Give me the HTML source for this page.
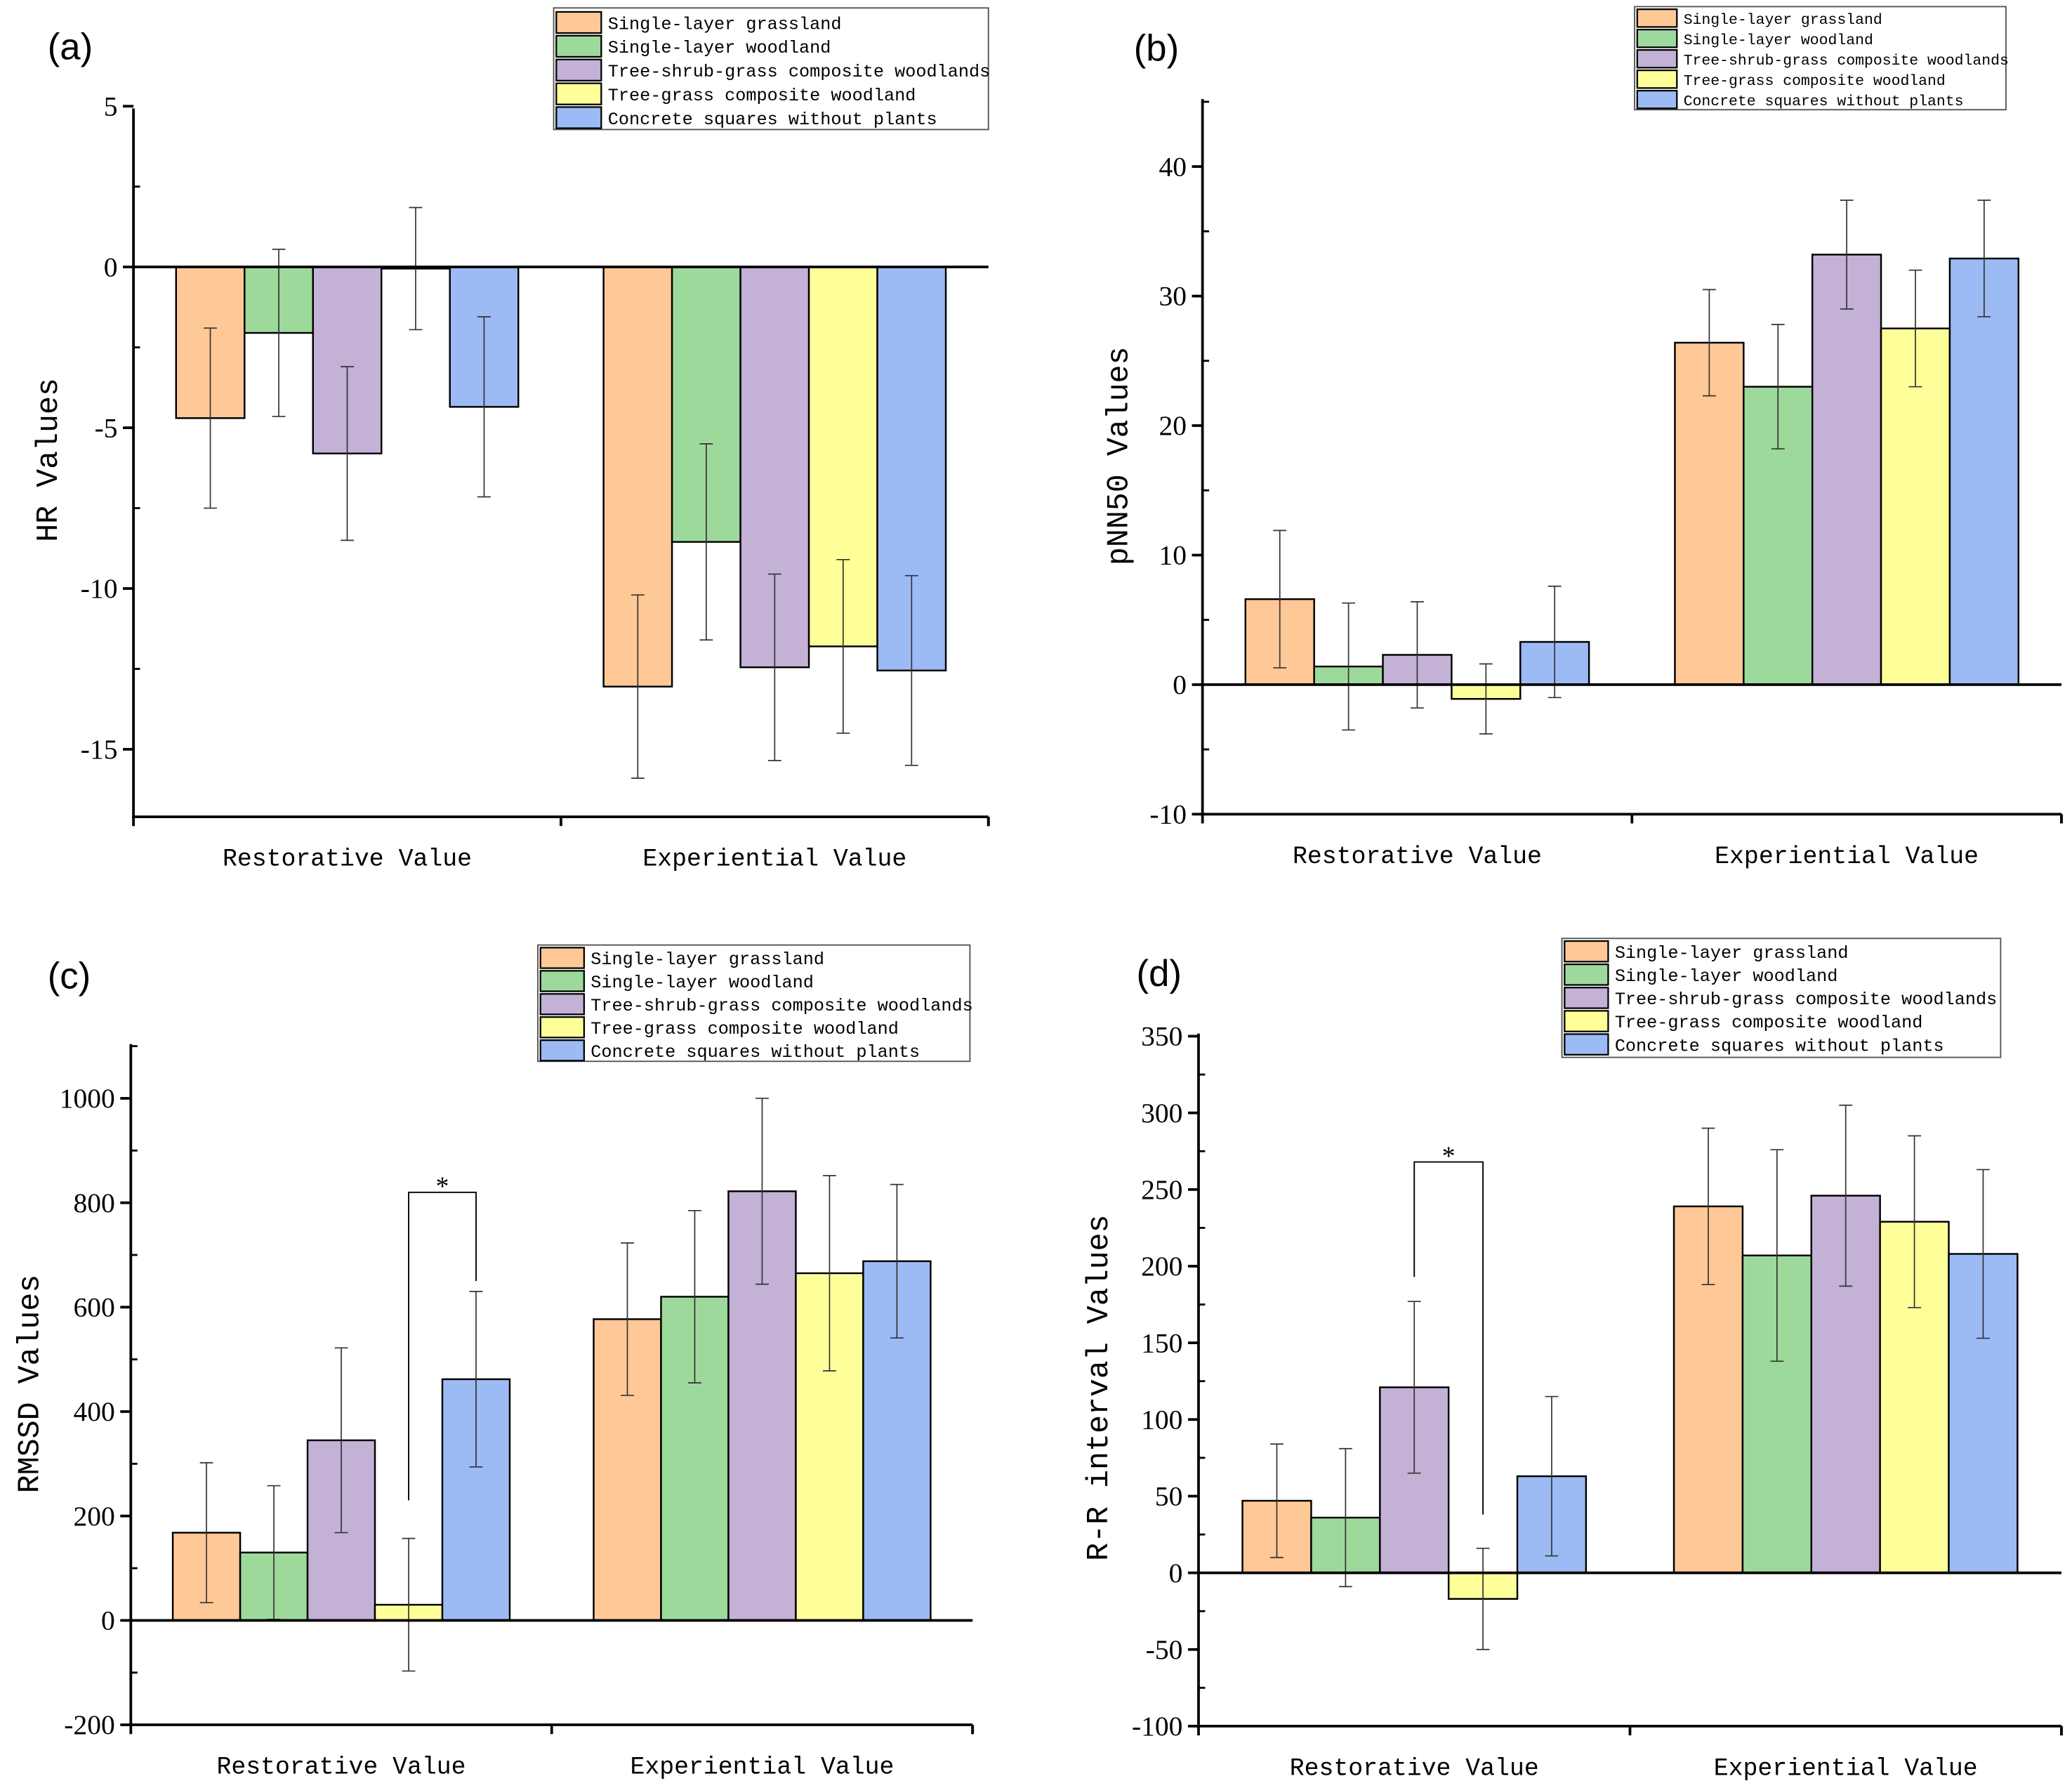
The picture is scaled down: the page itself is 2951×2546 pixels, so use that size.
<!DOCTYPE html>
<html><head><meta charset="utf-8"><style>html,body{margin:0;padding:0;background:#fff}svg{display:block}</style></head>
<body>
<svg id="fig" xmlns="http://www.w3.org/2000/svg" width="2951" height="2546" viewBox="0 0 1568 1352.8"></svg>
<script>
const categories = ["Restorative Value", "Experiential Value"];
const seriesNames = ["Single-layer grassland","Single-layer woodland","Tree-shrub-grass composite woodlands","Tree-grass composite woodland","Concrete squares without plants"];
const colors = ["#FFC897","#9ED99C","#C3B1D6","#FFFF9A","#9CBAF3"];

const hrValues = [[-4.7,-2.05,-5.8,-0.05,-4.35],[-13.05,-8.55,-12.45,-11.8,-12.55]];
const hrErrors = [[2.8,2.6,2.7,1.9,2.8],[2.85,3.05,2.9,2.7,2.95]];
const hrTicks = [5,0,-5,-10,-15];

const pnnValues = [[6.6,1.4,2.3,-1.1,3.3],[26.4,23.0,33.2,27.5,32.9]];
const pnnErrors = [[5.3,4.9,4.1,2.7,4.3],[4.1,4.8,4.2,4.5,4.5]];
const pnnTicks = [40,30,20,10,0,-10];

const rmssdValues = [[168,130,345,30,462],[577,620,822,665,688]];
const rmssdErrors = [[134,128,177,127,168],[146,165,178,187,147]];
const rmssdTicks = [1000,800,600,400,200,0,-200];
const rmssdSig = [230, 820, 650];

const rrValues = [[47,36,121,-17,63],[239,207,246,229,208]];
const rrErrors = [[37,45,56,33,52],[51,69,59,56,55]];
const rrTicks = [350,300,250,200,150,100,50,0,-50,-100];
const rrSig = [193, 268, 38];

const NS="http://www.w3.org/2000/svg";
const svg=document.getElementById('fig');
function mk(tag,attrs,parent,text){const e=document.createElementNS(NS,tag);for(const k in attrs)e.setAttribute(k,attrs[k]);if(text!==undefined)e.textContent=text;(parent||svg).appendChild(e);return e;}

function panel(p){
  const g=mk('g',{});
  
  
  const y=v=>p.y0+(v-p.v0)*(p.y1-p.y0)/(p.v1-p.v0);
  const W=p.x1-p.x0;
  const catX=i=>p.x0+W*(i+0.5)/2;
  const bw=p.bw;
  p.vals.forEach((grp,ci)=>{
    grp.forEach((v,si)=>{
      const cx=catX(ci)+(si-2)*bw;
      const top=Math.min(y(v),y(0)), h=Math.abs(y(v)-y(0));
      const r=mk('rect',{x:cx-bw/2,y:top,width:bw,height:h,fill:colors[si],stroke:'#000','stroke-width':1.3},g);
      
      
      const e=p.errs[ci][si];
      const eg=mk('g',{stroke:'#333','stroke-width':0.9},g);
      
      
      mk('line',{x1:cx,x2:cx,y1:y(v+e),y2:y(v-e)},eg);
      mk('line',{x1:cx-5,x2:cx+5,y1:y(v+e),y2:y(v+e)},eg);
      mk('line',{x1:cx-5,x2:cx+5,y1:y(v-e),y2:y(v-e)},eg);
    });
  });
  const z=mk('line',{x1:p.x0,x2:p.x1,y1:y(0),y2:y(0),stroke:'#000','stroke-width':2},g);
  
  
  const ax=mk('g',{stroke:'#000','stroke-width':2},g);
  
  
  mk('line',{x1:p.x0,x2:p.x0,y1:p.yTop,y2:p.y1+1},ax);
  mk('line',{x1:p.x0-1,x2:p.x1,y1:p.y1,y2:p.y1},ax);
  [0,1,2].forEach(k=>{const tx=p.x0+W*k/2;mk('line',{x1:tx,x2:tx,y1:p.y1,y2:p.y1+7},ax);});
  mk('line',{x1:p.x1,x2:p.x1,y1:p.y1,y2:p.y1+7},ax);
  const step=p.ticks[0]-p.ticks[1];
  p.ticks.forEach(t=>{
    mk('line',{x1:p.x0-8,x2:p.x0,y1:y(t),y2:y(t)},ax);
    const tl=mk('text',{x:p.x0-12,y:y(t)+7,'text-anchor':'end','font-family':'Liberation Serif, serif','font-size':21,fill:'#000'},g,String(t));
    
    
    const m=t-step/2;
    if(y(m)<p.y1-2 && y(m)>p.yTop) mk('line',{x1:p.x0,x2:p.x0+5,y1:y(m),y2:y(m),'stroke-width':1.5},ax);
  });
  const mTop=p.ticks[0]+step/2; if(y(mTop)>p.yTop-1) mk('line',{x1:p.x0,x2:p.x0+5,y1:y(mTop),y2:y(mTop),'stroke-width':1.5},ax);
  categories.forEach((c,ci)=>{
    const t=mk('text',{x:catX(ci),y:p.y1+37,'text-anchor':'middle','font-family':'Liberation Mono, monospace','font-size':18.5,fill:'#000'},g,c);
    
    
  });
  const yl=mk('text',{x:0,y:0,transform:`translate(${p.ylx},${p.yly}) rotate(-90)`,'text-anchor':'middle','font-family':'Liberation Mono, monospace','font-size':23,fill:'#000'},g,p.ylabel);
  
  
  const pl=mk('text',{x:p.lx,y:p.ly,'font-family':'Liberation Sans, sans-serif','font-size':28,fill:'#000'},g,p.letter);
  
  
  if(p.sig){
    const xa=catX(0)+(p.sigA-2)*bw, xb=catX(0)+(p.sigB-2)*bw;
    const br=mk('polyline',{points:`${xa},${y(p.sig[0])} ${xa},${y(p.sig[1])} ${xb},${y(p.sig[1])} ${xb},${y(p.sig[2])}`,fill:'none',stroke:'#000','stroke-width':1},g);
    
    
    const st=mk('text',{x:(xa+xb)/2,y:y(p.sig[1])+2,'text-anchor':'middle','font-family':'Liberation Serif, serif','font-size':20},g,'*');
    
    
  }
  const L=p.leg;
  const lg=mk('g',{},g);
  
  
  mk('rect',{x:L.x,y:L.y,width:L.w,height:L.h,fill:'#fff',stroke:'#555','stroke-width':1},lg);
  seriesNames.forEach((n,i)=>{
    const ry=L.y+L.pad+i*L.row;
    const e=mk('g',{},lg);
    
    
    mk('rect',{x:L.x+2,y:ry,width:L.sw,height:L.row-2,fill:colors[i],stroke:'#000','stroke-width':1.2},e);
    mk('text',{x:L.x+L.sw+7,y:ry+L.row*0.72,'font-family':'Liberation Mono, monospace','font-size':L.fs,fill:'#000'},e,n);
  });
}

panel({id:'hr',letter:'(a)',lx:36,ly:45,x0:101,x1:748,y0:202,v0:0,y1:618,v1:-17.1,yTop:82,bw:51.8,vals:hrValues,errs:hrErrors,ticks:hrTicks,ylabel:'HR Values',ylx:43,yly:348,
  leg:{x:419,y:6,w:329,h:92,pad:3,row:18,sw:34,fs:13.4}});
panel({id:'pnn',letter:'(b)',lx:858,ly:46,x0:910,x1:1560,y0:518,v0:0,y1:616,v1:-10,yTop:75,bw:52,vals:pnnValues,errs:pnnErrors,ticks:pnnTicks,ylabel:'pNN50 Values',ylx:853,yly:345,
  leg:{x:1237,y:5,w:281,h:78,pad:2,row:15.4,sw:30,fs:11.4}});
panel({id:'rmssd',letter:'(c)',lx:36,ly:748,x0:99,x1:736,y0:1226,v0:0,y1:1305,v1:-200,yTop:790,bw:51,vals:rmssdValues,errs:rmssdErrors,ticks:rmssdTicks,ylabel:'RMSSD Values',ylx:29,yly:1047,
  sig:rmssdSig,sigA:3,sigB:4,
  leg:{x:407,y:715,w:327,h:88,pad:2,row:17.5,sw:33,fs:13.4}});
panel({id:'rr',letter:'(d)',lx:860,ly:746,x0:907,x1:1560,y0:1190,v0:0,y1:1306,v1:-100,yTop:782,bw:52,vals:rrValues,errs:rrErrors,ticks:rrTicks,ylabel:'R-R interval Values',ylx:838,yly:1050,
  sig:rrSig,sigA:2,sigB:3,
  leg:{x:1182,y:710,w:332,h:90,pad:2,row:17.6,sw:33,fs:13.4}});
</script>
</body></html>
